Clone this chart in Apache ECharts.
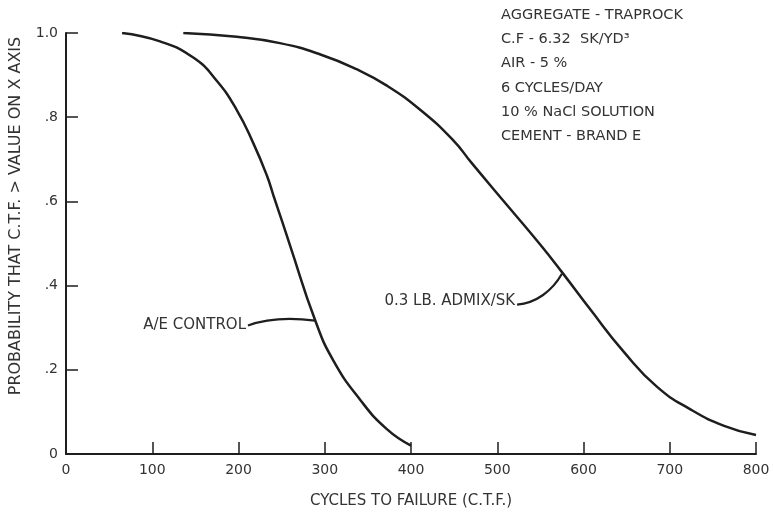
<!DOCTYPE html>
<html>
<head>
<meta charset="utf-8">
<script src="https://cdn.jsdelivr.net/npm/echarts@6/dist/echarts.min.js"></script>
<style>
  html, body { margin: 0; padding: 0; background: #fff; overflow: hidden; }
  #chart { width: 773px; height: 514px; }
</style>
</head>
<body>
<div id="chart"></div>
<script>
// Axis ticks
const xTickValues = [0, 100, 200, 300, 400, 500, 600, 700, 800];
const yTickValues = [0, 0.2, 0.4, 0.6, 0.8, 1.0];
const yTickLabels = ['0', '.2', '.4', '.6', '.8', '1.0'];

// A/E control: probability that cycles to failure exceed x
const aeCycles = [65, 109, 148, 175, 198, 217, 233, 241, 250, 260, 289, 310, 341, 372, 400];
const aeProb   = [1.0, 0.98, 0.941, 0.886, 0.817, 0.739, 0.661, 0.611, 0.556, 0.494, 0.317, 0.222, 0.129, 0.059, 0.02];

// 0.3 lb admixture per sack
const admixCycles = [136, 198, 248, 295, 337, 372, 411, 449, 470, 511, 550, 575, 608, 647, 685, 724, 763, 800];
const admixProb   = [1.0, 0.991, 0.976, 0.949, 0.914, 0.875, 0.817, 0.745, 0.692, 0.592, 0.497, 0.432, 0.343, 0.242, 0.16, 0.106, 0.067, 0.045];

// Test conditions
const conditions = [
  'AGGREGATE - TRAPROCK',
  'C.F - 6.32  SK/YD\u00B3',
  'AIR - 5 %',
  '6 CYCLES/DAY',
  '10 % NaCl SOLUTION',
  'CEMENT - BRAND E'
];

// Curve labels and their leader lines (data coordinates: label end -> control -> control -> curve)
const aeLabel = 'A/E CONTROL';
const aeLeader = [[211, 0.305], [234, 0.323], [265, 0.323], [289, 0.317]];
const admixLabel = '0.3 LB. ADMIX/SK';
const admixLeader = [[523, 0.355], [545, 0.358], [564, 0.388], [575, 0.428]];

const ink = '#1e1e1e';
const textInk = '#333';
const font = 'DejaVu Sans';

const zip = (xs, ys) => xs.map((x, i) => [x, ys[i]]);

const chart = echarts.init(document.getElementById('chart'), null, { renderer: 'canvas', width: 773, height: 514 });

chart.setOption({
  animation: false,
  backgroundColor: '#fff',
  grid: { left: 66, width: 690, top: 33, height: 429, containLabel: false },
  xAxis: {
    type: 'value',
    min: 0, max: 800, interval: 100,
    name: 'CYCLES TO FAILURE (C.T.F.)',
    nameLocation: 'middle',
    nameGap: 40,
    nameTextStyle: { fontFamily: font, fontSize: 15, color: textInk },
    axisLine: { show: true, lineStyle: { color: ink, width: 2 } },
    axisTick: { show: true, inside: true, length: 12, lineStyle: { color: ink, width: 1.5 } },
    axisLabel: { margin: 9, fontFamily: font, fontSize: 14, color: textInk },
    splitLine: { show: false }
  },
  yAxis: {
    type: 'value',
    min: 0, max: 1, interval: 0.2,
    axisLine: { show: true, lineStyle: { color: ink, width: 2 } },
    axisTick: { show: true, inside: true, length: 12, lineStyle: { color: ink, width: 1.5 } },
    axisLabel: {
      margin: 8, fontFamily: font, fontSize: 14, color: textInk,
      formatter: v => {
        const i = yTickValues.findIndex(t => Math.abs(t - v) < 1e-9);
        return i >= 0 ? yTickLabels[i] : '';
      }
    },
    splitLine: { show: false }
  },
  series: [
    {
      name: 'A/E CONTROL',
      type: 'line',
      data: zip(aeCycles, aeProb),
      smooth: 0.5,
      showSymbol: false,
      lineStyle: { color: ink, width: 2.5 }
    },
    {
      name: '0.3 LB. ADMIX/SK',
      type: 'line',
      data: zip(admixCycles, admixProb),
      smooth: 0.5,
      showSymbol: false,
      lineStyle: { color: ink, width: 2.5 }
    }
  ]
});

function px(p) { return chart.convertToPixel({ gridIndex: 0 }, p); }

function leaderCurve(pts) {
  const [a, b, c, d] = pts.map(px);
  return {
    type: 'bezierCurve',
    shape: { x1: a[0], y1: a[1], cpx1: b[0], cpy1: b[1], cpx2: c[0], cpy2: c[1], x2: d[0], y2: d[1] },
    style: { stroke: ink, lineWidth: 2.2, fill: null },
    silent: true
  };
}

const aeStart = px(aeLeader[0]);
const admixStart = px(admixLeader[0]);

const graphics = [
  // rotated y-axis title
  {
    type: 'text',
    x: 16, y: 216,
    rotation: Math.PI / 2,
    style: {
      text: 'PROBABILITY THAT C.T.F. > VALUE ON X AXIS',
      fontFamily: font, fontSize: 16, fill: textInk,
      textAlign: 'center', textVerticalAlign: 'middle'
    }
  },
  leaderCurve(aeLeader),
  leaderCurve(admixLeader),
  {
    type: 'text',
    x: aeStart[0] - 2, y: aeStart[1],
    style: { text: aeLabel, fontFamily: font, fontSize: 15, fill: textInk, textAlign: 'right', textVerticalAlign: 'middle' }
  },
  {
    type: 'text',
    x: admixStart[0] - 2, y: admixStart[1] - 3,
    style: { text: admixLabel, fontFamily: font, fontSize: 15, fill: textInk, textAlign: 'right', textVerticalAlign: 'middle' }
  }
];

conditions.forEach((line, i) => {
  graphics.push({
    type: 'text',
    x: 501, y: 15 + i * 24.3,
    style: { text: line, fontFamily: font, fontSize: 14.5, fill: textInk, textAlign: 'left', textVerticalAlign: 'middle' }
  });
});

chart.setOption({ graphic: graphics });
</script>
</body>
</html>
